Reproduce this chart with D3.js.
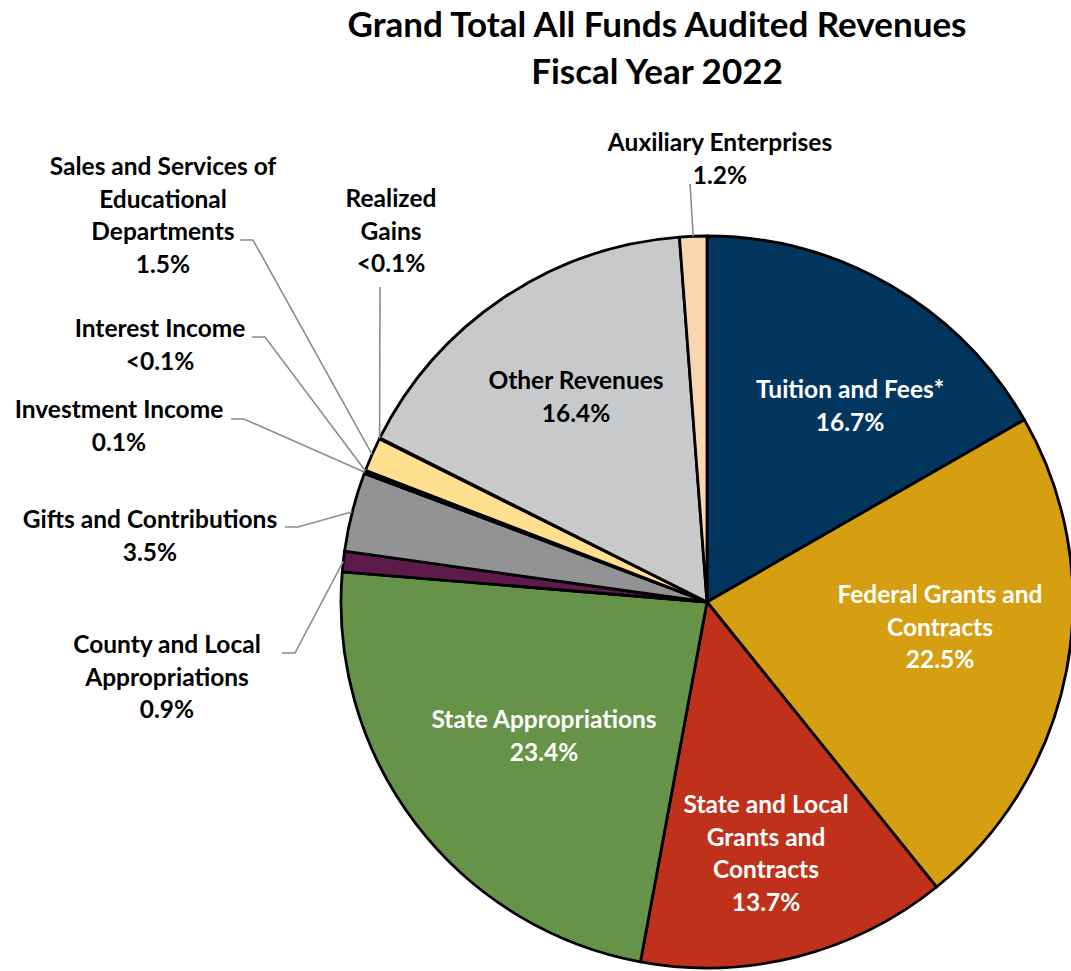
<!DOCTYPE html>
<html>
<head>
<meta charset="utf-8">
<script src="https://cdn.jsdelivr.net/npm/d3@7"></script>
<style>
  body { margin: 0; background: #fff; }
  text { font-family: Lato, "Open Sans", sans-serif; font-weight: bold; }
</style>
</head>
<body>
<div id="chart"></div>
<script>
// Revenue categories, clockwise from 12 o'clock
const categories = [
  'Tuition and Fees*', 'Federal Grants and Contracts', 'State and Local Grants and Contracts',
  'State Appropriations', 'County and Local Appropriations', 'Gifts and Contributions',
  'Investment Income', 'Interest Income', 'Sales and Services of Educational Departments',
  'Realized Gains', 'Other Revenues', 'Auxiliary Enterprises'
];
const shares = [16.7, 22.5, 13.7, 23.4, 0.9, 3.5, 0.1, 0.04, 1.5, 0.04, 16.4, 1.2];
const shareLabels = ['16.7%', '22.5%', '13.7%', '23.4%', '0.9%', '3.5%', '0.1%', '<0.1%', '1.5%', '<0.1%', '16.4%', '1.2%'];
const labelLines = [
  ['Tuition and Fees*'], ['Federal Grants and', 'Contracts'], ['State and Local', 'Grants and', 'Contracts'],
  ['State Appropriations'], ['County and Local', 'Appropriations'], ['Gifts and Contributions'],
  ['Investment Income'], ['Interest Income'], ['Sales and Services of', 'Educational', 'Departments'],
  ['Realized', 'Gains'], ['Other Revenues'], ['Auxiliary Enterprises']
];
const titleLines = ['Grand Total All Funds Audited Revenues', 'Fiscal Year 2022'];

const colors = ['#03365f', '#d59f11', '#c0311c', '#679348', '#5e1a4a', '#939396',
  '#3a3a3c', '#6a6a6c', '#ffe08f', '#bdbdbd', '#c8c9cb', '#f9d5b0'];

// label placement: x centre, y centre of first line, inside or outside (leader)
const placement = [
  { x: 850, y: 390, inside: true, fill: '#fff' },
  { x: 940, y: 595, inside: true, fill: '#fff' },
  { x: 766, y: 805, inside: true, fill: '#fff' },
  { x: 544, y: 720, inside: true, fill: '#fff' },
  { x: 167, y: 645, lead: [282, 653] },
  { x: 150, y: 520, lead: [285, 527] },
  { x: 119, y: 410, lead: [231, 419] },
  { x: 160, y: 329, lead: [252, 337] },
  { x: 163, y: 167, lead: [240, 240] },
  { x: 391, y: 199, vertical: [380, 287] },
  { x: 576, y: 381, inside: true, fill: '#000' },
  { x: 720, y: 143, vertical: [690, 184] }
];

const W = 1071, H = 971;
const cx = 707, cy = 602, r = 366;
const lineH = 32.5;
const fs = 24.5;

const svg = d3.select('#chart').append('svg')
  .attr('width', W).attr('height', H);

// title
svg.append('g').selectAll('text')
  .data(titleLines)
  .join('text')
  .attr('x', 657)
  .attr('y', (d, i) => 37 + i * 47)
  .attr('text-anchor', 'middle')
  .attr('font-size', 35)
  .attr('fill', '#000')
  .text(d => d);

const data = categories.map((c, i) => ({ name: c, value: shares[i], i }));
const pie = d3.pie().sort(null).value(d => d.value);
const arcs = pie(data);
const arc = d3.arc().innerRadius(0).outerRadius(r);

const g = svg.append('g').attr('transform', 'translate(' + cx + ',' + cy + ')');

g.selectAll('path')
  .data(arcs)
  .join('path')
  .attr('d', arc)
  .attr('fill', d => colors[d.data.i])
  .attr('stroke', '#000')
  .attr('stroke-width', 2.8)
  .attr('stroke-linejoin', 'round');

// leader lines to the outer edge of the small slices
const edge = d => {
  const a = (d.startAngle + d.endAngle) / 2;
  return [cx + r * Math.sin(a), cy - r * Math.cos(a)];
};

arcs.forEach((d, i) => {
  const p = placement[i];
  let pts = null;
  if (p.lead) pts = [p.lead, [p.lead[0] + 13, p.lead[1]], edge(d)];
  if (p.vertical) pts = [p.vertical, edge(d)];
  if (pts) {
    svg.append('path')
      .attr('d', d3.line()(pts))
      .attr('fill', 'none')
      .attr('stroke', '#8c8c8c')
      .attr('stroke-width', 1.6);
  }
});

// labels
arcs.forEach((d, i) => {
  const p = placement[i];
  const lines = labelLines[i].concat([shareLabels[i]]);
  const t = svg.append('text')
    .attr('text-anchor', 'middle')
    .attr('font-size', fs)
    .attr('fill', p.fill || '#000');
  lines.forEach((s, k) => {
    t.append('tspan')
      .attr('x', p.x)
      .attr('y', p.y + k * lineH + 8)
      .text(s);
  });
});
</script>
</body>
</html>
